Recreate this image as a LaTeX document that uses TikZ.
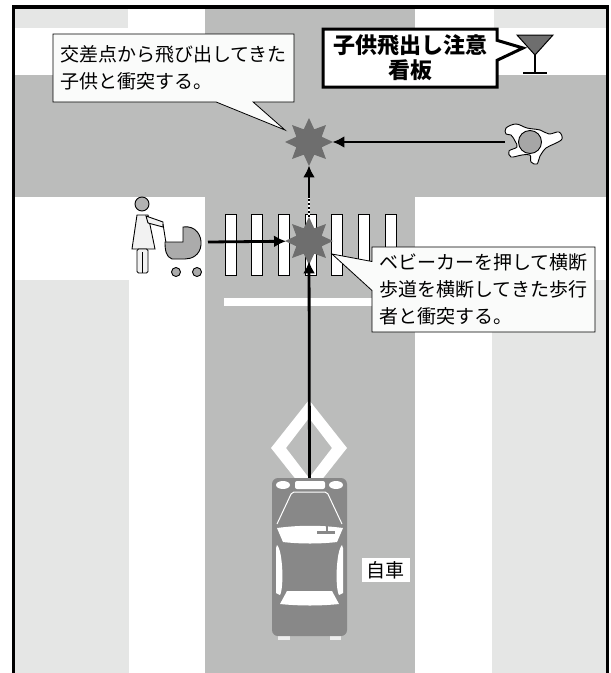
\documentclass[tikz,border=0pt]{standalone}
\usepackage{fontspec}
\newfontfamily\jpfont{Noto Sans CJK JP}
\usetikzlibrary{arrows.meta,shapes.geometric,shapes.callouts,positioning}

\definecolor{roadgray}{HTML}{BBBCBB}
\definecolor{walkgray}{HTML}{E5E6E5}
\definecolor{crashgray}{HTML}{6E6E6E}
\definecolor{cargray}{HTML}{888888}
\definecolor{notefill}{HTML}{FAFBFA}

\tikzset{
  crash/.style={star, star points=8, star point ratio=1.75, fill=crashgray,
    minimum size=48pt, inner sep=0pt},
  move/.style={line width=2.8pt, shorten >=-1pt, -{Latex[length=12pt,width=12pt]}},
  note/.style={rectangle callout, draw, fill=notefill, line width=0.8pt,
    font=\jpfont\fontsize{19}{27}\selectfont, align=left,
    inner xsep=6pt, inner ysep=5pt},
  zebra/.style={draw, fill=white, line width=0.8pt},
  figure/.style={line width=0.9pt},
}

\begin{document}
\begin{tikzpicture}[x=1pt, y=-1pt]
\useasboundingbox (0,0) rectangle (611,673);

% ground: sidewalks and the two roads
\fill[white] (0,0) rectangle (611,673);
\fill[walkgray] (14,9) rectangle (128,28);
\fill[walkgray] (494,9) rectangle (607,28);
\fill[walkgray] (14,280) rectangle (129,673);
\fill[walkgray] (492,280) rectangle (607,673);
\fill[roadgray] (14,75) rectangle (607,197);
\fill[roadgray] (205,9) rectangle (415,673);
\draw[line width=3.5pt] (13.5,673) -- (13.5,7) -- (607.5,7) -- (607.5,673);

% zebra crossing and stop line
\foreach \i in {0,...,6}
  \draw[zebra] ({225+26.7*\i},214) rectangle +(11,61);
\fill[white] (224,298) rectangle (400,306);

% diamond marking (crossing ahead)
\fill[white, even odd rule]
  (309,400) -- (347,448) -- (309,496) -- (271,448) -- cycle
  (309,418) -- (332,448) -- (309,478) -- (286,448) -- cycle;

% own car, seen from above
\fill[white!85!cargray] (278,632) rectangle (290,640);
\fill[white!85!cargray] (330,632) rectangle (341,640);
\node[fill=cargray, rounded corners=6pt, minimum width=75pt,
  minimum height=158pt, inner sep=0pt] (car) at (309.5,557) {};
\fill[white] (283,485) ellipse (7 and 4);
\fill[white] (336,485) ellipse (7 and 4);
\fill[white, rounded corners=2pt] (295,481) rectangle (325,489);
\draw[white, line width=1pt, rounded corners=2pt]
  (277,524) -- (292,492) -- (327,492) -- (342,524);
\fill[white] (277,528) .. controls (300,525) and (320,525) .. (343,528)
  -- (337,542) .. controls (320,544) and (300,544) .. (283,542) -- cycle;
\fill[cargray] (317,531) rectangle (335,534);
\fill[cargray] (326,526) rectangle (328,532);
\fill[white] (277,545) .. controls (283,551) and (284,588) .. (280,595)
  -- (276,593) -- (276,548) -- cycle;
\fill[white] (342,545) .. controls (336,551) and (335,588) .. (339,595)
  -- (343,593) -- (343,548) -- cycle;
\fill[white] (287,591) -- (332,591) -- (339,604)
  .. controls (320,606) and (300,606) .. (280,604) -- cycle;
\node[fill=white, font=\jpfont\fontsize{19}{23}\selectfont, inner xsep=5pt,
  inner ysep=3pt] (carlabel) at (385.5,570) {自車};

% collision points
\node[crash] (crash1) at (309,142) {};
\node[crash] (crash2) at (309,241) {};

% child running out from the right
\filldraw[fill=white, figure] plot[smooth cycle, tension=0.6] coordinates {
  (506,128) (516,124) (527,128) (540,130) (549,134) (559,132) (562,139)
  (554,144) (546,148) (540,156) (537,164) (531,162) (530,155) (522,155)
  (511,157) (509,151) (517,147) (515,141) (511,135) (506,134)};
\filldraw[fill=black!35, figure] (530,142) circle (11.5);
\coordinate (child) at (505,142);

% pedestrian pushing a pram
\filldraw[fill=black!5, figure] (137,215) -- (148,215) -- (155,249) -- (132,249) -- cycle;
\filldraw[fill=black!5, figure] (146,216) -- (163,222) -- (163,227) -- (148,223) -- cycle;
\filldraw[fill=black!5, figure, rounded corners=1.5pt] (137,249) rectangle (148,273);
\draw[figure] (142.5,252) -- (142.5,273);
\filldraw[fill=black!30, figure] (142,204) circle (7);
\draw[figure] (163,224) -- (166,243);
\filldraw[fill=black!33, figure] (165,242) -- (183,242) -- (183,227)
  .. controls (196,225) and (202,236) .. (201,245)
  .. controls (200,255) and (192,259) .. (185,259) -- (172,259)
  .. controls (166,257) and (165,250) .. (165,242) -- cycle;
\filldraw[fill=black!33, figure] (176,272) circle (4.5);
\filldraw[fill=black!33, figure] (197,272) circle (4.5);
\coordinate (pram) at (208,242);

% warning sign
\filldraw[fill=crashgray, line width=1pt] (517,35) -- (553,35) -- (535,55) -- cycle;
\draw[line width=1.6pt] (535,55) -- (535,73);
\draw[line width=1.6pt] (523,73) -- (547,73);
\coordinate (signpost) at (523,48);

% movements
\coordinate (gap) at (309,198);
\draw[move, shorten >=-4pt] (car.north) -- (crash2);
\draw[move] (pram) -- (crash2);
\draw[move] (child) -- (crash1);
\draw[white, line width=2.8pt] (crash2.north) -- (gap);
\draw[line width=2.8pt, dash pattern=on 2pt off 2pt] (crash2.north) -- (gap);
\draw[move] (gap) -- (crash1);

% callouts
\node[note, minimum width=241pt, minimum height=68pt,
  callout absolute pointer={(285,130)}, callout pointer width=37pt]
  (note1) at (173.5,68) {交差点から飛び出してきた\\子供と衝突する。};
\node[note, minimum width=223pt, minimum height=85pt,
  callout absolute pointer={(332,254)}, callout pointer width=29pt]
  (note2) at (483.5,289.5) {ベビーカーを押して横断\\歩道を横断してきた歩行\\者と衝突する。};
\node[rectangle callout, draw, fill=white, line width=3pt, align=center,
  font=\jpfont\bfseries\fontsize{22}{25}\selectfont,
  minimum width=174pt, minimum height=58pt,
  callout absolute pointer={(signpost)}, callout pointer width=20pt]
  (signnote) at (410,58) {子供飛出し注意\\看板};
\end{tikzpicture}
\end{document}
